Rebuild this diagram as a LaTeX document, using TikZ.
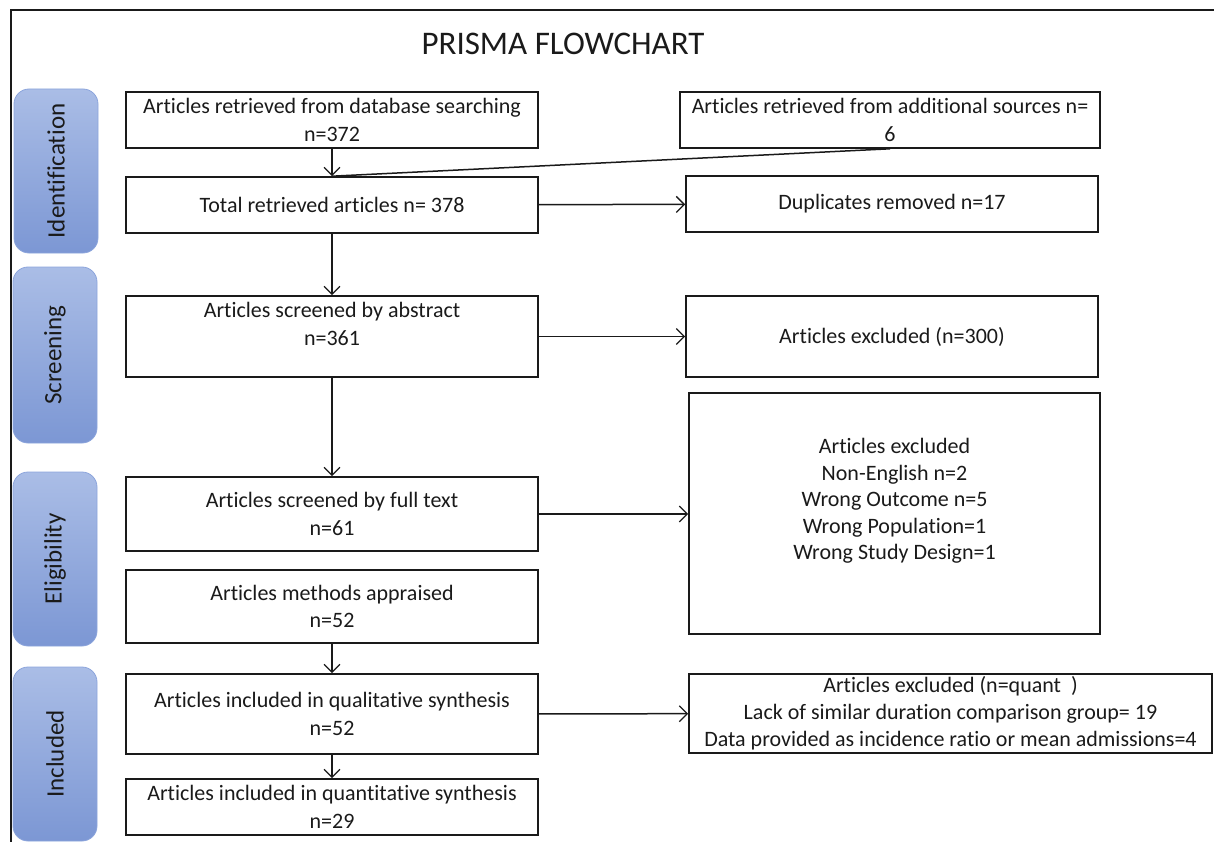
\documentclass[tikz,border=0pt]{standalone}
\usepackage{fontspec}
\setmainfont{Carlito}[Ligatures=NoCommon]
\usetikzlibrary{arrows.meta}
\definecolor{stagelight}{HTML}{AABDE6}
\definecolor{stagedark}{HTML}{7C97D4}
\definecolor{stageedge}{HTML}{8CA5DC}
\definecolor{ink}{HTML}{1A1A1A}
\tikzset{
  boxnode/.style={draw=ink, line width=1.6pt, rectangle, align=center, inner sep=0pt,
    font=\fontsize{22}{27.5}\selectfont, text=ink},
  txtnode/.style={align=center, inner sep=0pt, font=\fontsize{22}{26.5}\selectfont, text=ink},
  stagenode/.style={rotate=90, rounded corners=15pt, draw=stageedge, line width=0.8pt,
    top color=stagelight, bottom color=stagedark, minimum height=84pt,
    font=\fontsize{25}{30}\selectfont, text=ink, inner sep=0pt},
  arr/.style={draw=ink, line width=1.5pt, -{Straight Barb[length=8pt, width=16pt, line width=1.3pt]}},
  conn/.style={draw=ink, line width=1.5pt}
}
\begin{document}
\begin{tikzpicture}[x=1pt, y=-1pt]
\useasboundingbox (0,0) rectangle (1214,842);
% frame
\coordinate (ftl) at (10.5,10.5);
\coordinate (ftr) at (1214,10.5);
\coordinate (fbl) at (10.5,842);
\draw[ink, line width=2pt] (ftr) -- (ftl) -- (fbl);
% title
\node[font=\fontsize{33}{38}\selectfont, text=ink, inner sep=0pt] (title) at (563,44) {PRISMA FLOWCHART};
% stages
\node[stagenode, minimum width=164pt] (sid) at (56,171) {Identification};
\node[stagenode, minimum width=176pt] (ssc) at (55,355) {Screening};
\node[stagenode, minimum width=174pt] (sel) at (55,559) {Eligibility};
\node[stagenode, minimum width=174pt] (sin) at (55,754) {Included};
% left column
\node[boxnode, minimum width=412pt, minimum height=56pt] (b1) at (332,120) {Articles retrieved from database searching\\n=372};
\node[boxnode, minimum width=412pt, minimum height=56pt] (b2) at (332,205) {Total retrieved articles n= 378};
\node[boxnode, minimum width=412pt, minimum height=81pt] (b3) at (332,336.5) {};
\node[txtnode, font=\fontsize{22}{27.5}\selectfont] (b3t) at (332,324) {Articles screened by abstract\\n=361};
\node[boxnode, minimum width=412pt, minimum height=74pt] (b4) at (332,514) {Articles screened by full text\\n=61};
\node[boxnode, minimum width=412pt, minimum height=73pt] (b5) at (332,606.5) {Articles methods appraised\\n=52};
\node[boxnode, minimum width=412pt, minimum height=80pt] (b6) at (332,714) {Articles included in qualitative synthesis\\n=52};
\node[boxnode, minimum width=412pt, minimum height=56pt] (b7) at (332,807) {Articles included in quantitative synthesis\\n=29};
% right column
\node[boxnode, minimum width=420pt, minimum height=56pt] (add) at (890,120) {Articles retrieved from additional sources n=\\6};
\node[boxnode, minimum width=412pt, minimum height=56pt] (dup) at (892,204) {Duplicates removed n=17};
\node[boxnode, minimum width=412pt, minimum height=81pt] (ex1) at (892,336.5) {Articles excluded (n=300)};
\node[boxnode, minimum width=411pt, minimum height=241pt] (ex2) at (894.5,513.5) {};
\node[txtnode] (ex2t) at (894.5,501) {Articles excluded\\Non-English n=2\\Wrong Outcome n=5\\Wrong Population=1\\Wrong Study Design=1};
\node[boxnode, minimum width=523pt, minimum height=79pt, font=\fontsize{22}{27}\selectfont] (ex3) at (950.5,713.5) {Articles excluded (n=quant~~)\\Lack of similar duration comparison group= 19\\Data provided as incidence ratio or mean admissions=4};
% connectors
\draw[arr] (b1) -- (b2);
\draw[conn] (add.south) -- (b2.north);
\draw[arr] (b2) -- (dup);
\draw[arr] (b2) -- (b3);
\draw[arr] (b3) -- (ex1);
\draw[arr] (b3) -- (b4);
\draw[arr] (b4.east) -- (b4.east -| ex2.west);
\draw[arr] (b5) -- (b6);
\draw[arr] (b6) -- (ex3);
\draw[arr] (b6) -- (b7);
\end{tikzpicture}
\end{document}
